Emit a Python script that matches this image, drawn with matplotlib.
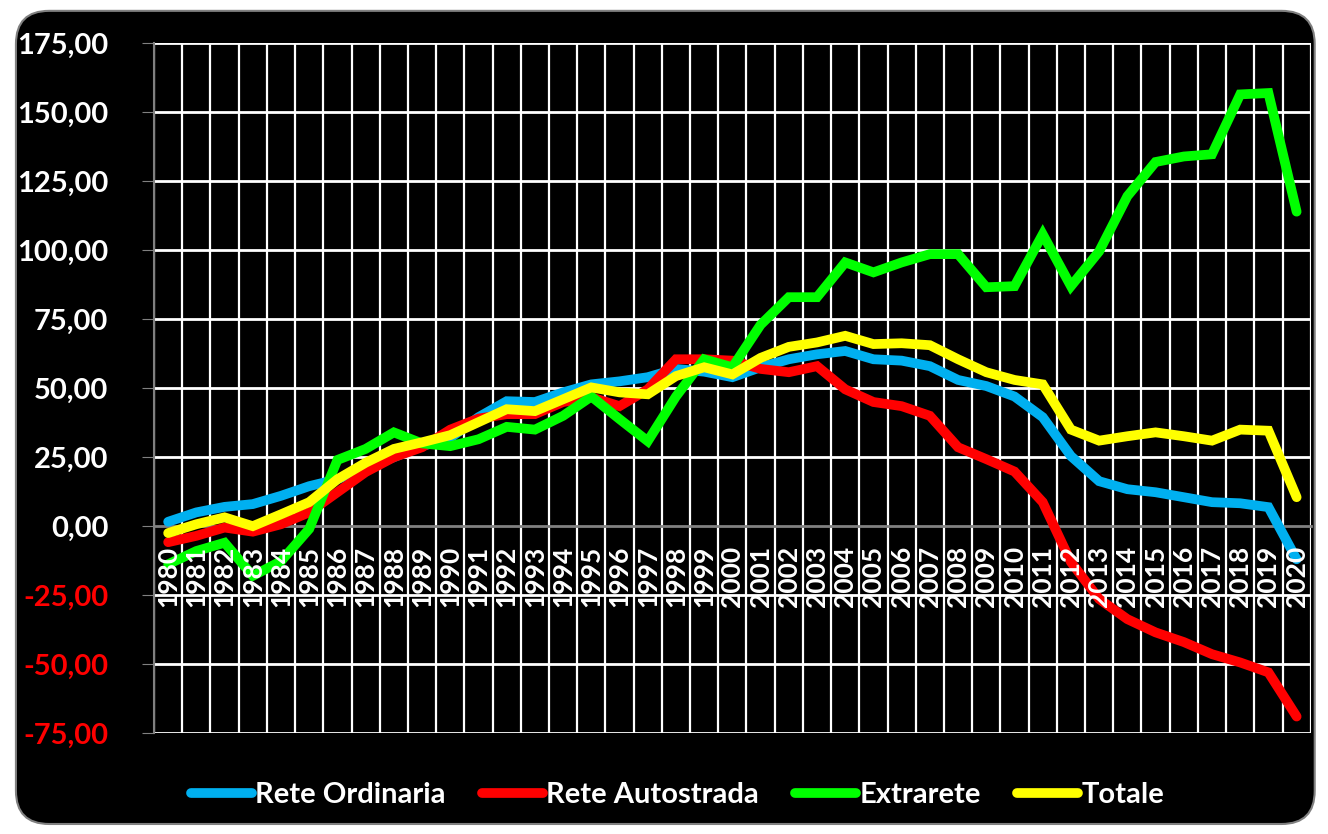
import matplotlib
matplotlib.use("Agg")
import matplotlib.pyplot as plt
from matplotlib.patches import FancyBboxPatch

# dati
anni = list(range(1980, 2021))
rete_ordinaria = [1.6, 5, 7, 8, 11, 14.5, 17, 21, 25, 29, 32,
                  39.5, 45.3, 45, 48.5, 51.4, 52.5, 54, 57, 56, 54,
                  57.6, 60.5, 62.3, 63.5, 60.5, 60, 58, 53, 50.8, 47,
                  39.5, 25.4, 16.3, 13.4, 12.3, 10.5, 8.7, 8.3, 6.9, -12]
rete_autostrada = [-5.8, -3.5, -0.5, -2, 0.7, 5, 12.3, 19.6, 25, 28.6, 35,
                   39, 40.6, 40.6, 45, 46.7, 43.5, 49.6, 60.5, 60.5, 60,
                   57, 55.8, 58, 49.6, 45, 43.5, 40, 28.6, 24.3, 19.8,
                   8.7, -13, -26.4, -33.7, -38.5, -42, -46.4, -49.4, -53, -69]
extrarete = [-13.8, -9, -6, -18, -12.7, -1, 24, 28, 34, 30, 29,
             31.5, 36, 35, 40, 47, 38.8, 30.8, 47, 60.5, 57.6,
             73, 83, 83, 95.6, 92, 95.6, 98.6, 98.6, 86.6, 87,
             105.8, 87, 99.6, 119.6, 132, 134, 134.8, 156.5, 157, 114]
totale = [-2.5, 0.7, 3.2, 0, 4.3, 8.7, 17, 23, 28, 30.4, 33,
          37.7, 42.4, 41.7, 46, 50.3, 48.5, 47.8, 54.4, 57.6, 55,
          61, 65, 66.6, 69, 66, 66.3, 65.6, 60.5, 55.8, 53,
          51.4, 35, 31, 32.6, 34, 32.6, 31, 35, 34.6, 10.5]

serie = [("Rete Ordinaria", rete_ordinaria, "#00b0f0"),
         ("Rete Autostrada", rete_autostrada, "#ff0000"),
         ("Extrarete", extrarete, "#00ff00"),
         ("Totale", totale, "#ffff00")]

fig = plt.figure(figsize=(13.28, 8.34), dpi=100)
fig.patch.set_facecolor("white")
# sfondo nero arrotondato
sfondo = FancyBboxPatch((0.012, 0.012), 0.978, 0.975, transform=fig.transFigure,
                        boxstyle="round,pad=0,rounding_size=0.025",
                        facecolor="black", edgecolor="#808080", linewidth=1.5,
                        mutation_aspect=1328 / 834, zorder=-5)
fig.patches.append(sfondo)

ax = fig.add_axes([0.116, 0.121, 0.871, 0.827])
ax.set_facecolor("black")

for nome, valori, colore in serie:
    ax.plot(anni, valori, color=colore, linewidth=7, label=nome,
            solid_joinstyle="miter", solid_capstyle="round", zorder=2)

ax.set_xlim(anni[0] - 0.5, anni[-1] + 0.5)
ax.set_ylim(-75, 175)

# griglia
yticks = list(range(-75, 176, 25))
for y in yticks:
    if y != 0:
        ax.axhline(y, color="white", linewidth=2, zorder=1)
for i in range(len(anni) + 1):
    ax.axvline(anni[0] - 0.5 + i, color="white", linewidth=1.6, zorder=1)

for s in ["top", "right"]:
    ax.spines[s].set_visible(False)
ax.spines["left"].set_color("#808080")
ax.spines["left"].set_linewidth(1.5)
ax.spines["bottom"].set_position(("data", 0))
ax.spines["bottom"].set_color("#808080")
ax.spines["bottom"].set_linewidth(2)
ax.spines["bottom"].set_zorder(1.2)

ax.set_yticks(yticks)
ax.set_yticklabels([f"{v:.2f}".replace(".", ",") for v in yticks],
                   fontsize=21, fontweight="bold", family="Lato")
for lab, v in zip(ax.get_yticklabels(), yticks):
    lab.set_color("red" if v < 0 else "white")
ax.tick_params(axis="y", length=9, color="#808080", pad=24)

ax.set_xticks(anni)
ax.set_xticklabels([str(a) for a in anni], rotation=90, fontsize=19,
                   fontweight="bold", family="Lato", color="white")
ax.tick_params(axis="x", length=0, pad=14)
ax.xaxis.set_zorder(3)

leg = fig.legend(loc="center", bbox_to_anchor=(0.51, 0.047), ncol=4,
                 frameon=False, handlelength=2.1, handletextpad=0.1,
                 columnspacing=1.25, prop={"family": "Lato", "weight": "bold", "size": 21})
for t in leg.get_texts():
    t.set_color("white")

fig.savefig("out.png", dpi=100)
